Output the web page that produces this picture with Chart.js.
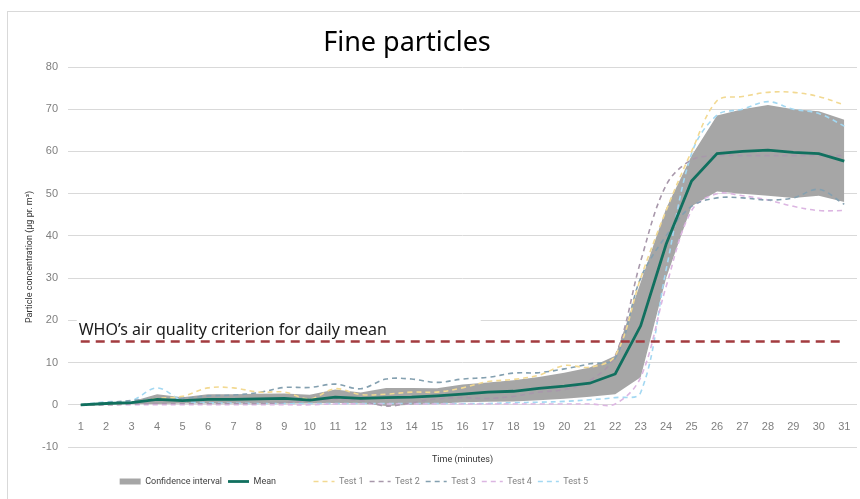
<!DOCTYPE html>
<html>
<head>
<meta charset="utf-8">
<script src="https://cdn.jsdelivr.net/npm/chart.js@4.4.1/dist/chart.umd.min.js"></script>
<style>
  html, body { margin: 0; padding: 0; background: #fff; }
  #wrap { position: relative; width: 860px; height: 499px; overflow: hidden; }
  #frame { position: absolute; left: 7px; top: 11px; width: 870px; height: 500px; border: 1px solid #d9d9d9; }
  #chart { position: absolute; left: 0; top: 0; }
</style>
</head>
<body>
<div id="wrap">
  <div id="frame"></div>
  <canvas id="chart" width="860" height="499"></canvas>
</div>
<script>
// time axis, minutes
var minutes = ['1','2','3','4','5','6','7','8','9','10','11','12','13','14','15','16',
               '17','18','19','20','21','22','23','24','25','26','27','28','29','30','31'];

// confidence interval bounds
var ciUpper = [0, 0.3, 0.8, 2.5, 1.8, 2.5, 2.5, 2.6, 2.7, 2.4, 3.6, 2.9, 4.0, 4.0, 3.9, 4.8,
               5.3, 5.8, 6.6, 7.6, 8.8, 11.6, 29, 46.5, 59, 68.5, 70, 71, 70, 69.5, 67.5];
var ciLower = [0, 0.2, 0.2, 0.2, 0.3, 0.3, 0.3, 0.3, 0.3, 0.3, 0.4, 0.3, -0.3, 0, 0.2, 0.6,
               0.7, 0.8, 1.1, 1.4, 1.9, 2.5, 6.5, 30, 47, 50.5, 50, 49.5, 49, 49.5, 48];
var mean = [0, 0.3, 0.5, 1.3, 1.0, 1.3, 1.3, 1.4, 1.5, 1.1, 1.8, 1.5, 1.7, 1.8, 2.1, 2.5,
            3.0, 3.2, 3.9, 4.4, 5.1, 7.3, 18.7, 38, 53, 59.5, 60, 60.3, 59.8, 59.5, 57.7];

var test1 = [0, 0.2, 0.5, 1.5, 2, 4, 4, 3, 3, 1.4, 3.8, 2.4, 2.5, 3, 3, 4,
             5.5, 6, 7, 9.3, 8.9, 11.6, 30, 46, 60, 72, 73, 74, 74, 73, 71];
var test2 = [0, 0, 0.2, 0.3, 0.3, 0.3, 0.3, 0.3, 0.5, 1, 1.3, 1, -0.3, 0.5, 1.4, 1.7,
             1.5, 2, 3, 3.6, 5.7, 11.6, 34, 52, 58, 59, 59, 59, 59, 59, 59];
var test3 = [0, 0.5, 1, 1.5, 1.5, 2.1, 2.3, 2.9, 4.1, 4.1, 4.9, 3.8, 6.1, 6.1, 5.3, 6.1,
             6.5, 7.5, 7.6, 8.5, 9.7, 11, 30, 40, 47, 49, 49, 48.5, 49, 51, 47.5];
var test4 = [0, 0, 0, 0, 0, 0, 0, 0, 0, 0, 0.2, 0.2, 0.2, 0.2, 0.2, 0.2,
             0.2, 0.2, 0.2, 0.2, 0.2, 0.2, 6.5, 28, 46, 50, 49.5, 48.5, 47, 46, 46];
var test5 = [0, 0.7, 1, 4, 1, 0.5, 0.4, 0.3, 0.3, 0.3, 0.3, 0.3, 0.3, 0.3, 0.3, 0.3,
             0.3, 0.5, 0.6, 0.8, 1.2, 1.7, 2.9, 32, 59.5, 68.6, 70, 71.8, 70, 69, 66];

// WHO daily mean criterion (µg/m³)
var whoLimit = [15, 15, 15, 15, 15, 15, 15, 15, 15, 15, 15, 15, 15, 15, 15, 15,
                15, 15, 15, 15, 15, 15, 15, 15, 15, 15, 15, 15, 15, 15, 15];

var yTicks = [-10, 0, 10, 20, 30, 40, 50, 60, 70, 80];

var chartTitle = 'Fine particles';
var whoText = 'WHO\u2019s air quality criterion for daily mean';
var legendNames = ['Confidence interval', 'Mean', 'Test 1', 'Test 2', 'Test 3', 'Test 4', 'Test 5'];

var narrow = "'Liberation Sans Narrow', 'Roboto', sans-serif";

function testLine(label, data, color) {
    return {
        label: label, data: data, borderColor: color, backgroundColor: color,
        borderWidth: 1.6, borderDash: [5, 4], tension: 0.35, pointRadius: 0,
        pointStyle: 'line', fill: false, order: 2
    };
}

// blank legend slot, used to push items to where the original has them
function gap(text) {
    return { text: text, fillStyle: 'rgba(0,0,0,0)', strokeStyle: 'rgba(0,0,0,0)',
             lineWidth: 0, pointStyle: 'line', hidden: false };
}

// title and WHO text, with the white box behind the label
var textPlugin = {
    id: 'textPlugin',
    beforeDatasetsDraw: function(chart) {
        var ctx = chart.ctx;
        var x = chart.scales.x.getPixelForValue(0);
        var y = chart.scales.y.getPixelForValue(15);
        ctx.save();
        ctx.fillStyle = '#ffffff';
        ctx.fillRect(x - 4, y - 36, 404, 30);
        ctx.restore();
    },
    afterDraw: function(chart) {
        var ctx = chart.ctx;
        ctx.save();
        ctx.fillStyle = '#000000';
        ctx.font = "27px 'Noto Sans', sans-serif";
        ctx.textAlign = 'center';
        ctx.textBaseline = 'middle';
        ctx.fillText(chartTitle, 407, 43);

        var x = chart.scales.x.getPixelForValue(0);
        var y = chart.scales.y.getPixelForValue(15);
        ctx.fillStyle = '#1a1a1a';
        ctx.font = "16px 'Noto Sans', sans-serif";
        ctx.textAlign = 'left';
        ctx.textBaseline = 'alphabetic';
        ctx.fillText(whoText, x - 2, y - 6);
        ctx.restore();
    }
};

var ctx = document.getElementById('chart').getContext('2d');
var chart = new Chart(ctx, {
    type: 'line',
    data: {
        labels: minutes,
        datasets: [
            { label: 'Confidence interval', data: ciUpper, borderWidth: 0, borderColor: '#a6a6a6',
              backgroundColor: '#a6a6a6', pointRadius: 0, pointStyle: 'rect', fill: '+1', order: 5 },
            { label: 'lower', data: ciLower, borderWidth: 0, borderColor: '#a6a6a6',
              backgroundColor: '#a6a6a6', pointRadius: 0, fill: false, order: 5 },
            { label: 'Mean', data: mean, borderColor: '#11705f', backgroundColor: '#11705f',
              borderWidth: 2.8, pointRadius: 0, pointStyle: 'line', fill: false, order: 0 },
            testLine('Test 1', test1, '#f2d992'),
            testLine('Test 2', test2, '#a898ab'),
            testLine('Test 3', test3, '#84a0b0'),
            testLine('Test 4', test4, '#dcb6e2'),
            testLine('Test 5', test5, '#a3d8f2'),
            { label: 'WHO', data: whoLimit, borderColor: '#a33b3f', borderWidth: 2.4,
              borderDash: [9, 6], pointRadius: 0, fill: false, order: 1 }
        ]
    },
    options: {
        responsive: false,
        animation: false,
        events: [],
        layout: { padding: { left: 8, right: 3, top: 67, bottom: 3 } },
        plugins: {
            title: { display: false },
            tooltip: { enabled: false },
            legend: {
                position: 'bottom',
                align: 'start',
                labels: {
                    usePointStyle: true,
                    pointStyleWidth: 21,
                    boxHeight: 6,
                    padding: 6,
                    font: { family: narrow, size: 9 },
                    color: '#808080',
                    generateLabels: function(chart) {
                        var items = Chart.defaults.plugins.legend.labels.generateLabels(chart)
                            .filter(function(it) { return legendNames.indexOf(it.text) >= 0; });
                        items.sort(function(a, b) { return legendNames.indexOf(a.text) - legendNames.indexOf(b.text); });
                        items.forEach(function(it) {
                            var ds = chart.data.datasets[it.datasetIndex];
                            it.lineWidth = ds.borderWidth;
                            it.lineDash = ds.borderDash || [];
                            it.strokeStyle = ds.borderColor;
                            it.fontColor = (it.text === 'Confidence interval' || it.text === 'Mean') ? '#404040' : '#808080';
                        });
                        return [gap(''), gap(''), gap('     ')]
                            .concat(items.slice(0, 2), [gap('')], items.slice(2));
                    }
                }
            }
        },
        scales: {
            x: {
                type: 'category',
                offset: true,
                grid: { display: false },
                border: { display: false },
                ticks: { display: false },
                title: { display: true, text: 'Time (minutes)', color: '#333333',
                         font: { family: narrow, size: 9, lineHeight: 1 }, padding: { top: 0, bottom: 7 } }
            },
            xZero: {
                type: 'category',
                axis: 'x',
                position: { y: 0 },
                offset: true,
                grid: { display: false },
                border: { display: false },
                ticks: { color: '#7f7f7f', font: { family: "'Liberation Sans', sans-serif", size: 11 }, padding: 8 }
            },
            y: {
                min: -10,
                max: 80,
                afterFit: function(scale) { scale.width = 60; },
                afterBuildTicks: function(scale) {
                    scale.ticks = yTicks.map(function(v) { return { value: v }; });
                },
                grid: { color: '#d9d9d9', drawTicks: false, lineWidth: 1 },
                border: { display: false },
                ticks: { color: '#7f7f7f', font: { family: "'Liberation Sans', sans-serif", size: 11 }, padding: 10 },
                title: { display: true, text: 'Particle concentration (\u00b5g pr. m\u00b3)', color: '#333333',
                         font: { family: narrow, size: 9 }, padding: { top: 16, bottom: 0 } }
            }
        }
    },
    plugins: [textPlugin]
});
</script>
</body>
</html>
